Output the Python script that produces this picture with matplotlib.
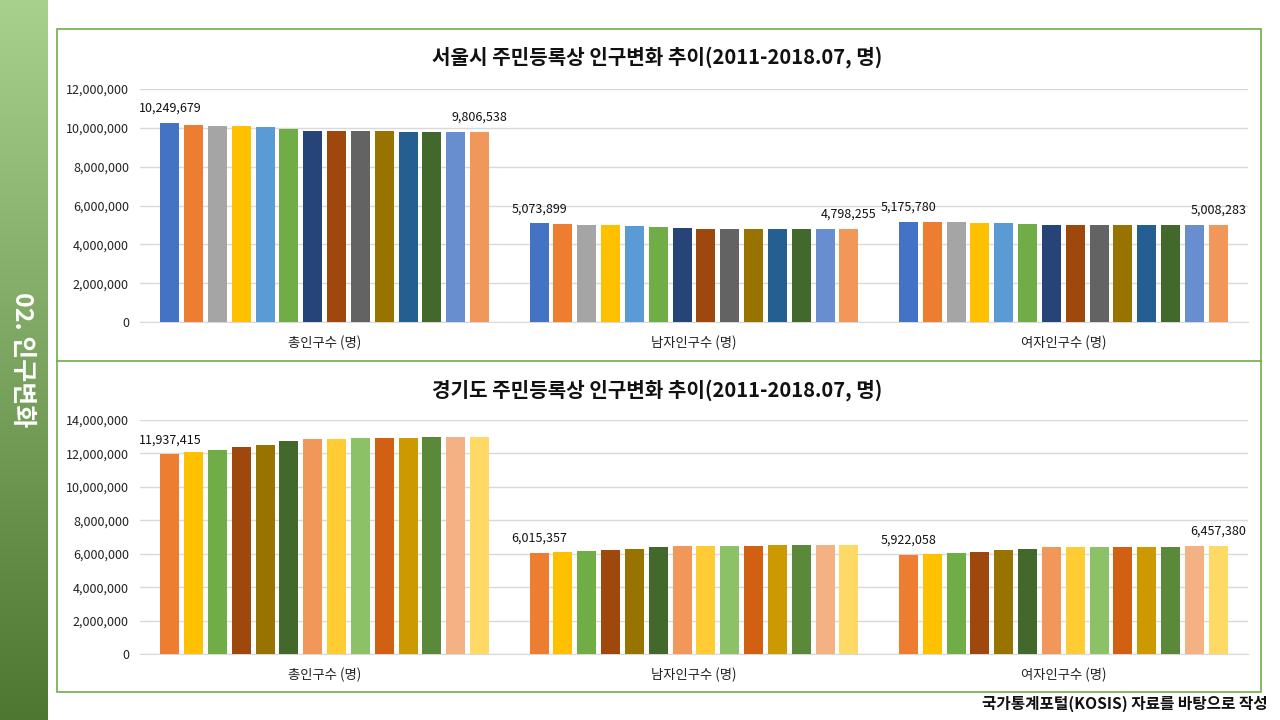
import numpy as np
import matplotlib
matplotlib.use("Agg")
import matplotlib.pyplot as plt
from matplotlib.patches import Rectangle
from matplotlib.lines import Line2D

plt.rcParams['font.family'] = ['Noto Sans CJK KR', 'DejaVu Sans']

categories = ['총인구수 (명)', '남자인구수 (명)', '여자인구수 (명)']

seoul_total = [10249679, 10170000, 10120000, 10110000, 10020000, 9915000, 9860000,
               9857000, 9813000, 9812000, 9811000, 9810000, 9808000, 9806538]
seoul_male = [5073899, 5070000, 5020000, 4970000, 4920000, 4870000, 4820000,
              4810000, 4800000, 4800000, 4800000, 4799000, 4799000, 4798255]
seoul_female = [5175780, 5170000, 5130000, 5115000, 5105000, 5060000, 5020000,
                5018000, 5012000, 5011000, 5010000, 5010000, 5009000, 5008283]

gg_total = [11937415, 12060000, 12180000, 12360000, 12480000, 12720000, 12840000,
            12845000, 12900000, 12905000, 12910000, 12960000, 12965000, 12970000]
gg_male = [6015357, 6100000, 6160000, 6220000, 6280000, 6400000, 6460000,
           6462000, 6468000, 6470000, 6510000, 6515000, 6518000, 6520000]
gg_female = [5922058, 5980000, 6040000, 6100000, 6220000, 6280000, 6400000,
             6402000, 6408000, 6410000, 6412000, 6420000, 6450000, 6457380]

seoul_labels = [[0, 13], [0, 13], [0, 13]]
gg_labels = [[0], [0], [0, 13]]

seoul_title = '서울시 주민등록상 인구변화 추이(2011-2018.07, 명)'
gg_title = '경기도 주민등록상 인구변화 추이(2011-2018.07, 명)'
side_text = '02. 인구변화'
footer = '국가통계포털(KOSIS) 자료를 바탕으로 작성'

seoul_colors = ['#4472C4', '#ED7D31', '#A5A5A5', '#FFC000', '#5B9BD5', '#70AD47', '#264478',
                '#9E480E', '#636363', '#997300', '#255E91', '#43682B', '#698ED0', '#F1975A']
gg_colors = ['#ED7D31', '#FFC000', '#70AD47', '#9E480E', '#997300', '#43682B', '#F1975A',
             '#FFCD33', '#8CC168', '#D26012', '#CC9A00', '#5A8A39', '#F4B183', '#FFD966']

W, H = 1280, 720
fig = plt.figure(figsize=(12.8, 7.2), dpi=100)

# sidebar gradient
side = fig.add_axes([0, 0, 48 / W, 1])
top_c = np.array([0xA9, 0xD1, 0x8E]) / 255
bot_c = np.array([0x4E, 0x78, 0x32]) / 255
t = np.linspace(0, 1, 256)[:, None]
grad = (top_c[None, :] * (1 - t) + bot_c[None, :] * t)[:, None, :]
side.imshow(grad, aspect='auto', extent=[0, 1, 0, 1])
side.set_axis_off()
fig.text(22 / W, 1 - 360 / H, side_text, rotation=270, color='white', fontsize=18,
         fontweight='bold', ha='center', va='center')

# border box
fig.add_artist(Rectangle((57 / W, 1 - 692 / H), (1261 - 57) / W, (692 - 29) / H,
                         transform=fig.transFigure, fill=False, edgecolor='#70AD47', lw=1.2))
fig.add_artist(Line2D([57 / W, 1261 / W], [1 - 361 / H, 1 - 361 / H],
                      transform=fig.transFigure, color='#70AD47', lw=1.2))


def draw(ax, groups, colors, labels, ymax, title, title_y):
    n = len(groups[0])
    w = 19 / 369
    pitch = 23.8 / 369
    offs = (np.arange(n) - (n - 1) / 2) * pitch
    for gi, vals in enumerate(groups):
        xs = gi + offs
        ax.bar(xs, vals, width=w, color=colors, zorder=3)
        for idx in labels[gi]:
            ax.annotate(f'{vals[idx]:,}', (xs[idx], vals[idx]), xytext=(0, 6),
                        textcoords='offset points', ha='center', va='bottom',
                        fontsize=9, color='#111111')
    ax.set_xlim(-0.5, len(groups) - 0.5)
    ax.set_ylim(0, ymax)
    ax.set_yticks(np.arange(0, ymax + 1, 2000000))
    ax.yaxis.set_major_formatter(matplotlib.ticker.FuncFormatter(lambda v, p: f'{int(v):,}'))
    ax.set_xticks(range(len(groups)))
    ax.set_xticklabels(categories)
    ax.tick_params(axis='x', length=0, pad=10, labelsize=9.6, colors='#222222')
    ax.tick_params(axis='y', length=0, pad=8, labelsize=9, colors='#222222')
    ax.grid(axis='y', color='#D9D9D9', lw=1, zorder=0)
    for s in ['top', 'right', 'left']:
        ax.spines[s].set_visible(False)
    ax.spines['bottom'].set_color('#D9D9D9')
    ax.set_facecolor('none')
    fig.text(657 / W, 1 - title_y / H, title, ha='center', va='center', fontsize=14.5,
             fontweight='bold', color='#111111')


ax1 = fig.add_axes([140 / W, 1 - 322 / H, 1108 / W, (322 - 89) / H])
draw(ax1, [seoul_total, seoul_male, seoul_female], seoul_colors, seoul_labels,
     12000000, seoul_title, 57)
ax2 = fig.add_axes([140 / W, 1 - 654 / H, 1108 / W, (654 - 420) / H])
draw(ax2, [gg_total, gg_male, gg_female], gg_colors, gg_labels,
     14000000, gg_title, 390)

fig.text(1268 / W, 1 - 704 / H, footer, ha='right', va='center', fontsize=11.3,
         fontweight='bold', color='#111111')

fig.savefig('out.png', dpi=100)
